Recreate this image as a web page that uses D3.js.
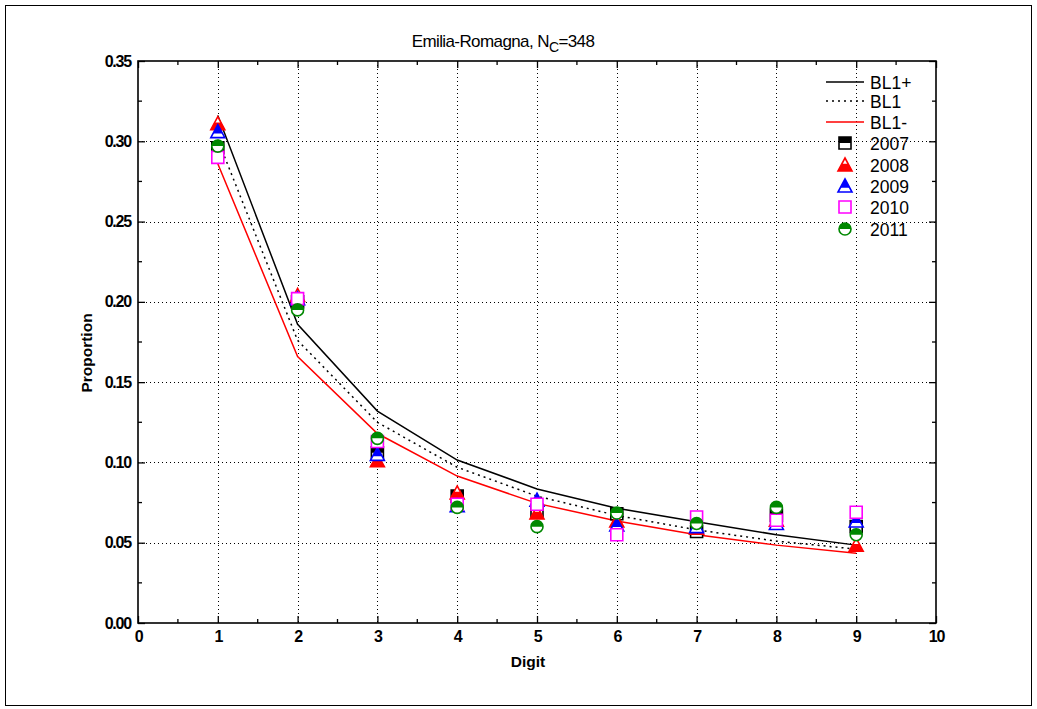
<!doctype html>
<html>
<head>
<meta charset="utf-8">
<title>Emilia-Romagna</title>
<script src="https://d3js.org/d3.v7.min.js"></script>
<style>
  body { margin: 0; background: #fff; }
  text { font-family: "Liberation Sans", Arial, sans-serif; }
  .tick-label { font-size: 16px; font-weight: bold; letter-spacing: -1.2px; }
</style>
</head>
<body>
<script>
  var digits = [1, 2, 3, 4, 5, 6, 7, 8, 9];
  var bl1Plus  = [0.316, 0.186, 0.132, 0.1015, 0.0835, 0.0715, 0.063, 0.055, 0.0485];
  var bl1      = [0.301, 0.176, 0.125, 0.097, 0.079, 0.067, 0.058, 0.051, 0.046];
  var bl1Minus = [0.286, 0.166, 0.118, 0.0915, 0.0745, 0.0635, 0.055, 0.0485, 0.0435];

  var y2007 = [0.296, 0.200, 0.106, 0.079, 0.070, 0.068, 0.057, 0.067, 0.060];
  var y2008 = [0.311, 0.204, 0.101, 0.081, 0.0685, 0.0635, 0.059, 0.064, 0.0485];
  var y2009 = [0.306, 0.202, 0.105, 0.073, 0.0765, 0.061, 0.060, 0.062, 0.0635];
  var y2010 = [0.290, 0.202, 0.113, 0.074, 0.074, 0.055, 0.066, 0.064, 0.069];
  var y2011 = [0.297, 0.195, 0.115, 0.072, 0.060, 0.0685, 0.062, 0.072, 0.055];

  var xTicks = [0, 1, 2, 3, 4, 5, 6, 7, 8, 9, 10];
  var yTicks = [0, 0.05, 0.10, 0.15, 0.20, 0.25, 0.30, 0.35];

  var W = 1037, H = 709;
  var pL = 138, pR = 936, pT = 61, pB = 623;

  var svg = d3.select("body").append("svg").attr("width", W).attr("height", H);

  // outer border
  svg.append("rect").attr("x", 5.5).attr("y", 5.5).attr("width", 1026).attr("height", 700)
      .attr("fill", "none").attr("stroke", "#000").attr("stroke-width", 1);

  var x = d3.scaleLinear().domain([0, 10]).range([pL, pR]);
  var y = d3.scaleLinear().domain([0, 0.35]).range([pB, pT]);

  // clip paths for half filled markers
  var defs = svg.append("defs");
  defs.append("clipPath").attr("id", "topHalf").attr("clipPathUnits", "objectBoundingBox")
    .append("rect").attr("x", -0.1).attr("y", -0.1).attr("width", 1.2).attr("height", 0.6);
  defs.append("clipPath").attr("id", "botHalf").attr("clipPathUnits", "objectBoundingBox")
    .append("rect").attr("x", -0.1).attr("y", 0.5).attr("width", 1.2).attr("height", 0.6);
  defs.append("clipPath").attr("id", "triTop").attr("clipPathUnits", "objectBoundingBox")
    .append("rect").attr("x", -0.1).attr("y", -0.1).attr("width", 1.2).attr("height", 0.78);
  defs.append("clipPath").attr("id", "triBot").attr("clipPathUnits", "objectBoundingBox")
    .append("rect").attr("x", -0.1).attr("y", 0.45).attr("width", 1.2).attr("height", 0.7);

  // grid
  var grid = svg.append("g").attr("stroke", "#000").attr("stroke-width", 1).attr("stroke-dasharray", "1,3");
  grid.selectAll(".gx").data(xTicks.slice(1, -1)).enter().append("line")
      .attr("x1", function(d){ return Math.round(x(d)) + 0.5; })
      .attr("x2", function(d){ return Math.round(x(d)) + 0.5; })
      .attr("y1", pT).attr("y2", pB);
  grid.selectAll(".gy").data(yTicks.slice(1, -1)).enter().append("line")
      .attr("y1", function(d){ return Math.round(y(d)) + 0.5; })
      .attr("y2", function(d){ return Math.round(y(d)) + 0.5; })
      .attr("x1", pL).attr("x2", pR);

  // axes (ticks inward)
  var xAxisB = d3.axisBottom(x).tickValues(xTicks).tickSize(-7).tickPadding(8).tickFormat(d3.format("d"));
  var xAxisT = d3.axisTop(x).tickValues(xTicks).tickSize(-7).tickFormat("");
  var yAxisL = d3.axisLeft(y).tickValues(yTicks).tickSize(-7).tickPadding(7).tickFormat(d3.format(".2f"));
  var yAxisR = d3.axisRight(y).tickValues(yTicks).tickSize(-7).tickFormat("");
  var xMinor = d3.range(0.5, 10, 1), yMinor = d3.range(0.025, 0.35, 0.05);

  function styleAxis(g) {
    g.select(".domain").remove();
    g.selectAll("line").attr("stroke", "#000").attr("stroke-width", 1.3);
    g.selectAll("text").attr("class", "tick-label").attr("fill", "#000");
  }
  svg.append("g").attr("transform", "translate(0," + pB + ")").call(xAxisB).call(styleAxis)
     .selectAll(".tick text").style("font-size", "16px");
  svg.append("g").attr("transform", "translate(0," + pT + ")").call(xAxisT).call(styleAxis);
  svg.append("g").attr("transform", "translate(" + pL + ",0)").call(yAxisL).call(styleAxis);
  svg.append("g").attr("transform", "translate(" + pR + ",0)").call(yAxisR).call(styleAxis);

  var minor = svg.append("g").attr("stroke", "#000").attr("stroke-width", 1.3);
  xMinor.forEach(function(v){
    minor.append("line").attr("x1", x(v)).attr("x2", x(v)).attr("y1", pB).attr("y2", pB - 4);
    minor.append("line").attr("x1", x(v)).attr("x2", x(v)).attr("y1", pT).attr("y2", pT + 4);
  });
  yMinor.forEach(function(v){
    minor.append("line").attr("y1", y(v)).attr("y2", y(v)).attr("x1", pL).attr("x2", pL + 4);
    minor.append("line").attr("y1", y(v)).attr("y2", y(v)).attr("x1", pR).attr("x2", pR - 4);
  });

  // frame
  svg.append("rect").attr("x", pL).attr("y", pT).attr("width", pR - pL).attr("height", pB - pT)
      .attr("fill", "none").attr("stroke", "#000").attr("stroke-width", 1.6);

  // titles
  var title = svg.append("text").attr("x", 503).attr("y", 47).attr("text-anchor", "middle")
      .style("font-size", "17px").style("letter-spacing", "-0.6px");
  title.append("tspan").text("Emilia-Romagna, N");
  title.append("tspan").attr("dy", 5).style("font-size", "14px").text("C");
  title.append("tspan").attr("dy", -5).text("=348");

  svg.append("text").attr("x", 528).attr("y", 667).attr("text-anchor", "middle")
      .style("font-size", "15.5px").style("font-weight", "bold").text("Digit");
  svg.append("text").attr("transform", "translate(92,353) rotate(-90)").attr("text-anchor", "middle")
      .style("font-size", "15.5px").style("font-weight", "bold").text("Proportion");

  // reference lines
  var line = d3.line().x(function(d){ return x(d[0]); }).y(function(d){ return y(d[1]); });
  var lines = [
    {name: "BL1+", vals: bl1Plus, color: "#000", dash: null},
    {name: "BL1", vals: bl1, color: "#000", dash: "2,4"},
    {name: "BL1-", vals: bl1Minus, color: "#f00", dash: null}
  ];
  lines.forEach(function(l){
    svg.append("path").datum(digits.map(function(d, i){ return [d, l.vals[i]]; }))
      .attr("d", line).attr("fill", "none").attr("stroke", l.color).attr("stroke-width", 1.5)
      .attr("stroke-dasharray", l.dash);
  });

  // markers
  var sq = "M-6,-6H6V6H-6Z";
  var tri = "M0,-7L7,6H-7Z";
  var circ = "M-6,0A6,6 0 1,0 6,0A6,6 0 1,0 -6,0Z";
  var series = [
    {name: "2007", vals: y2007, color: "#000", shape: sq, half: "topHalf"},
    {name: "2008", vals: y2008, color: "#f00", shape: tri, half: "triBot"},
    {name: "2009", vals: y2009, color: "#00f", shape: tri, half: "triTop"},
    {name: "2010", vals: y2010, color: "#f0f", shape: sq, half: null},
    {name: "2011", vals: y2011, color: "#080", shape: circ, half: "topHalf"}
  ];

  function drawMarker(g, s) {
    g.append("path").attr("d", s.shape).attr("fill", "#fff").attr("stroke", s.color).attr("stroke-width", 1.6);
    if (s.half) {
      g.append("path").attr("d", s.shape).attr("fill", s.color).attr("stroke", "none")
        .attr("clip-path", "url(#" + s.half + ")");
    }
  }

  series.forEach(function(s){
    digits.forEach(function(d, i){
      var g = svg.append("g").attr("transform", "translate(" + x(d) + "," + y(s.vals[i]) + ")");
      drawMarker(g, s);
    });
  });

  // legend
  var leg = svg.append("g");
  var rowY = [82, 101, 122, 143, 165, 186, 207, 229];
  lines.forEach(function(l, i){
    leg.append("line").attr("x1", 826).attr("x2", 864).attr("y1", rowY[i]).attr("y2", rowY[i])
      .attr("stroke", l.color).attr("stroke-width", 1.5).attr("stroke-dasharray", l.dash);
    leg.append("text").attr("x", 870).attr("y", rowY[i] + 6.5).style("font-size", "17.5px").text(l.name);
  });
  series.forEach(function(s, i){
    var ry = rowY[i + 3];
    var g = leg.append("g").attr("transform", "translate(845," + ry + ")");
    drawMarker(g, s);
    leg.append("text").attr("x", 870).attr("y", ry + 6.5).style("font-size", "17.5px").text(s.name);
  });
</script>
</body>
</html>
